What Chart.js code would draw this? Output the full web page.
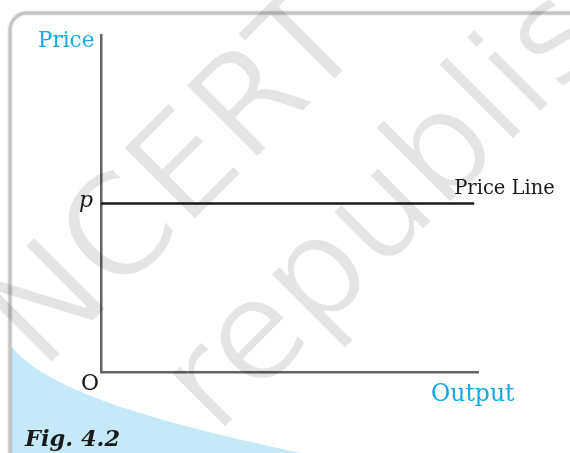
<!DOCTYPE html>
<html>
<head>
<meta charset="utf-8">
<title>Fig. 4.2 Price Line</title>
<script src="https://cdn.jsdelivr.net/npm/chart.js"></script>
<style>
  html, body { margin: 0; padding: 0; background: #fff; }
  #wrap { position: relative; width: 570px; height: 453px; overflow: hidden; }
  canvas { display: block; }
</style>
</head>
<body>
<div id="wrap"><canvas id="chart" width="570" height="453"></canvas></div>
<script>
// chart data
const outputs = [0, 99];          // where the price line starts and stops
const prices = [50, 50];          // horizontal price line at p
const axisMax = 100;
const axisLabels = { y: 'Price', x: 'Output', origin: 'O', level: 'p', line: 'Price Line' };
const caption = 'Fig. 4.2';

const BLUE = '#18a8e0';
const SERIF = '"DejaVu Serif", "Liberation Serif", serif';

// light blue corner, page frame (under the chart)
const backdrop = {
  id: 'backdrop',
  beforeDraw(chart) {
    const ctx = chart.ctx;
    ctx.save();
    ctx.fillStyle = '#c6e9f8';
    ctx.beginPath();
    ctx.moveTo(10, 345);
    ctx.bezierCurveTo(50, 395, 170, 425, 315, 456);
    ctx.lineTo(315, 460);
    ctx.lineTo(10, 460);
    ctx.closePath();
    ctx.fill();

    // frame with rounded top-left corner
    const r = 17;
    ctx.shadowColor = 'rgba(0,0,0,0.25)';
    ctx.shadowBlur = 2;
    ctx.strokeStyle = '#c4c4c4';
    ctx.lineWidth = 3;
    ctx.beginPath();
    ctx.moveTo(10, 470);
    ctx.lineTo(10, 13 + r);
    ctx.arcTo(10, 13, 10 + r, 13, r);
    ctx.lineTo(600, 13);
    ctx.stroke();
    ctx.restore();
  }
};

// diagonal watermark, thinned a little by eroding the glyph edges
function drawWatermark(ctx, w, h) {
  const off = document.createElement('canvas');
  off.width = w;
  off.height = h;
  const o = off.getContext('2d');
  o.font = '140px "DejaVu Sans", sans-serif';
  o.fillStyle = '#e4e4e4';
  o.lineWidth = 2.5;
  o.lineJoin = 'round';
  [['NCERT', 42, 373], ['republish', 216, 437]].forEach(([text, x, y]) => {
    o.save();
    o.translate(x, y);
    o.rotate(-Math.PI / 4);
    o.globalCompositeOperation = 'source-over';
    o.fillText(text, 0, 0);
    o.globalCompositeOperation = 'destination-out';
    o.strokeText(text, 0, 0);
    o.restore();
  });
  ctx.save();
  ctx.globalCompositeOperation = 'multiply';
  ctx.drawImage(off, 0, 0);
  ctx.restore();
}

// text labels and watermark (over the chart)
const labels = {
  id: 'labels',
  afterDraw(chart) {
    const ctx = chart.ctx;
    const xs = chart.scales.x, ys = chart.scales.y;
    const left = xs.left, right = xs.right, top = ys.top, bottom = ys.bottom;
    const py = ys.getPixelForValue(prices[0]);
    const lineEnd = xs.getPixelForValue(outputs[outputs.length - 1]);

    ctx.save();
    ctx.textBaseline = 'alphabetic';

    ctx.fillStyle = BLUE;
    ctx.font = '21.5px ' + SERIF;
    ctx.textAlign = 'left';
    ctx.fillText(axisLabels.y, left - 63, top + 12);

    ctx.font = '23.5px ' + SERIF;
    ctx.fillText(axisLabels.x, right - 47, bottom + 29);

    ctx.fillStyle = '#1a1a1a';
    ctx.font = '19.5px ' + SERIF;
    ctx.fillText(axisLabels.line, lineEnd - 20, py - 10);

    ctx.font = 'italic 22px ' + SERIF;
    ctx.textAlign = 'right';
    ctx.fillText(axisLabels.level, left - 8, py + 3);

    ctx.font = '22px ' + SERIF;
    ctx.textAlign = 'center';
    ctx.fillText(axisLabels.origin, left - 11, bottom + 18);

    ctx.font = 'italic bold 22.5px ' + SERIF;
    ctx.textAlign = 'left';
    ctx.fillText(caption, 25, 446);
    ctx.restore();

    drawWatermark(ctx, chart.width, chart.height);
  }
};

const axisStyle = {
  type: 'linear',
  min: 0,
  max: axisMax,
  grid: { display: false, drawTicks: false },
  ticks: { display: false },
  border: { display: true, color: '#626262', width: 2.5 }
};

new Chart(document.getElementById('chart').getContext('2d'), {
  type: 'line',
  data: {
    datasets: [{
      label: axisLabels.line,
      data: outputs.map((x, i) => ({ x, y: prices[i] })),
      borderColor: '#1a1a1a',
      borderWidth: 2.5,
      pointRadius: 0,
      fill: false
    }]
  },
  options: {
    responsive: false,
    animation: false,
    layout: { padding: { left: 101, right: 92, top: 35, bottom: 81 } },
    plugins: { legend: { display: false }, tooltip: { enabled: false } },
    scales: {
      x: Object.assign({}, axisStyle, { position: 'bottom' }),
      y: Object.assign({}, axisStyle, { position: 'left' })
    }
  },
  plugins: [backdrop, labels]
});
</script>
</body>
</html>
